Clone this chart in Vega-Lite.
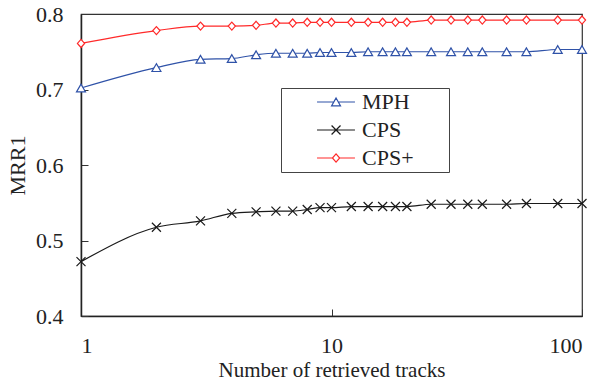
{
  "$schema": "https://vega.github.io/schema/vega-lite/v6.json",
  "width": 501,
  "height": 302,
  "autosize": {"type": "none"},
  "padding": {"left": 81, "top": 14, "right": 18, "bottom": 70},
  "background": "white",
  "config": {
    "font": "Liberation Serif",
    "view": {"stroke": "#333", "strokeWidth": 1.2},
    "axis": {
      "grid": false,
      "domainColor": "#222",
      "domainWidth": 1.5,
      "tickColor": "#333",
      "tickWidth": 1,
      "tickSize": -7,
      "labelFontSize": 22,
      "labelColor": "#222",
      "titleFontSize": 22,
      "titleFontWeight": "normal",
      "titleColor": "#222"
    },
    "legend": {
      "title": null,
      "orient": "none",
      "legendX": 200,
      "legendY": 74,
      "direction": "vertical",
      "padding": 3,
      "strokeColor": "#444",
      "fillColor": "white",
      "symbolSize": 432,
      "symbolStrokeWidth": 1.2,
      "labelFontSize": 22,
      "labelColor": "#222",
      "labelOffset": 56,
      "rowPadding": 6
    }
  },
  "data": {
    "values": [
      {"series": "MPH", "k": 1, "mrr": 0.702},
      {"series": "MPH", "k": 2, "mrr": 0.729},
      {"series": "MPH", "k": 3, "mrr": 0.740},
      {"series": "MPH", "k": 4, "mrr": 0.741},
      {"series": "MPH", "k": 5, "mrr": 0.746},
      {"series": "MPH", "k": 6, "mrr": 0.748},
      {"series": "MPH", "k": 7, "mrr": 0.748},
      {"series": "MPH", "k": 8, "mrr": 0.748},
      {"series": "MPH", "k": 9, "mrr": 0.749},
      {"series": "MPH", "k": 10, "mrr": 0.749},
      {"series": "MPH", "k": 12, "mrr": 0.749},
      {"series": "MPH", "k": 14, "mrr": 0.750},
      {"series": "MPH", "k": 16, "mrr": 0.750},
      {"series": "MPH", "k": 18, "mrr": 0.750},
      {"series": "MPH", "k": 20, "mrr": 0.750},
      {"series": "MPH", "k": 25, "mrr": 0.750},
      {"series": "MPH", "k": 30, "mrr": 0.750},
      {"series": "MPH", "k": 35, "mrr": 0.750},
      {"series": "MPH", "k": 40, "mrr": 0.750},
      {"series": "MPH", "k": 50, "mrr": 0.750},
      {"series": "MPH", "k": 60, "mrr": 0.750},
      {"series": "MPH", "k": 80, "mrr": 0.753},
      {"series": "MPH", "k": 100, "mrr": 0.753},
      {"series": "CPS", "k": 1, "mrr": 0.472},
      {"series": "CPS", "k": 2, "mrr": 0.5175},
      {"series": "CPS", "k": 3, "mrr": 0.526},
      {"series": "CPS", "k": 4, "mrr": 0.536},
      {"series": "CPS", "k": 5, "mrr": 0.538},
      {"series": "CPS", "k": 6, "mrr": 0.539},
      {"series": "CPS", "k": 7, "mrr": 0.539},
      {"series": "CPS", "k": 8, "mrr": 0.541},
      {"series": "CPS", "k": 9, "mrr": 0.5435},
      {"series": "CPS", "k": 10, "mrr": 0.5435},
      {"series": "CPS", "k": 12, "mrr": 0.545},
      {"series": "CPS", "k": 14, "mrr": 0.545},
      {"series": "CPS", "k": 16, "mrr": 0.545},
      {"series": "CPS", "k": 18, "mrr": 0.545},
      {"series": "CPS", "k": 20, "mrr": 0.545},
      {"series": "CPS", "k": 25, "mrr": 0.548},
      {"series": "CPS", "k": 30, "mrr": 0.548},
      {"series": "CPS", "k": 35, "mrr": 0.548},
      {"series": "CPS", "k": 40, "mrr": 0.548},
      {"series": "CPS", "k": 50, "mrr": 0.548},
      {"series": "CPS", "k": 60, "mrr": 0.549},
      {"series": "CPS", "k": 80, "mrr": 0.549},
      {"series": "CPS", "k": 100, "mrr": 0.549},
      {"series": "CPS+", "k": 1, "mrr": 0.761},
      {"series": "CPS+", "k": 2, "mrr": 0.778},
      {"series": "CPS+", "k": 3, "mrr": 0.784},
      {"series": "CPS+", "k": 4, "mrr": 0.784},
      {"series": "CPS+", "k": 5, "mrr": 0.785},
      {"series": "CPS+", "k": 6, "mrr": 0.788},
      {"series": "CPS+", "k": 7, "mrr": 0.788},
      {"series": "CPS+", "k": 8, "mrr": 0.789},
      {"series": "CPS+", "k": 9, "mrr": 0.789},
      {"series": "CPS+", "k": 10, "mrr": 0.789},
      {"series": "CPS+", "k": 12, "mrr": 0.789},
      {"series": "CPS+", "k": 14, "mrr": 0.789},
      {"series": "CPS+", "k": 16, "mrr": 0.789},
      {"series": "CPS+", "k": 18, "mrr": 0.789},
      {"series": "CPS+", "k": 20, "mrr": 0.789},
      {"series": "CPS+", "k": 25, "mrr": 0.792},
      {"series": "CPS+", "k": 30, "mrr": 0.792},
      {"series": "CPS+", "k": 35, "mrr": 0.792},
      {"series": "CPS+", "k": 40, "mrr": 0.792},
      {"series": "CPS+", "k": 50, "mrr": 0.792},
      {"series": "CPS+", "k": 60, "mrr": 0.792},
      {"series": "CPS+", "k": 80, "mrr": 0.792},
      {"series": "CPS+", "k": 100, "mrr": 0.792}
    ]
  },
  "encoding": {
    "x": {
      "field": "k",
      "type": "quantitative",
      "scale": {"type": "log", "domain": [1, 100], "nice": false},
      "axis": {
        "title": "Number of retrieved tracks",
        "titleFontSize": 21,
        "values": [1, 10, 100],
        "format": "d",
        "labelPadding": 26,
        "titlePadding": 3
      }
    },
    "y": {
      "field": "mrr",
      "type": "quantitative",
      "scale": {"domain": [0.4, 0.8], "nice": false, "zero": false},
      "axis": {
        "title": "MRR1",
        "values": [0.4, 0.5, 0.6, 0.7, 0.8],
        "format": ".1f",
        "labelPadding": 25,
        "titlePadding": 6
      }
    }
  },
  "layer": [
    {
      "mark": {"type": "line", "interpolate": "monotone", "strokeWidth": 1.2},
      "encoding": {
        "color": {
          "field": "series",
          "type": "nominal",
          "scale": {"domain": ["MPH", "CPS", "CPS+"], "range": ["#2f52a8", "#1a1a1a", "#ff2a2a"]},
          "legend": null
        }
      }
    },
    {
      "mark": {"type": "point", "filled": false, "fill": "white", "fillOpacity": 1, "opacity": 1, "strokeWidth": 1.2, "size": 81},
      "encoding": {
        "color": {
          "field": "series",
          "type": "nominal",
          "scale": {"domain": ["MPH", "CPS", "CPS+"], "range": ["#2f52a8", "#1a1a1a", "#ff2a2a"]},
          "legend": null
        },
        "shape": {
          "field": "series",
          "type": "nominal",
          "scale": {
            "domain": ["CPS", "CPS+", "MPH"],
            "range": ["M-1,-1L1,1M1,-1L-1,1", "M0,-0.9L0.8,0L0,0.9L-0.8,0Z", "triangle-up"]
          },
          "legend": null
        }
      }
    },
    {
      "transform": [{"filter": "false"}],
      "mark": {"type": "point", "filled": false, "opacity": 1, "strokeWidth": 1.2},
      "encoding": {
        "color": {
          "field": "series",
          "type": "nominal",
          "scale": {"domain": ["MPH", "CPS", "CPS+"], "range": ["#2f52a8", "#1a1a1a", "#ff2a2a"]}
        },
        "shape": {
          "field": "series",
          "type": "nominal",
          "scale": {
            "domain": ["MPH", "CPS", "CPS+"],
            "range": [
              "M2.12,0H3.73M4.17,0H5.77M3.95,-0.39L4.38,0.38H3.52ZM14.24,0L14.24,0",
              "M2.12,0H5.77M3.52,-0.43L4.38,0.43M4.38,-0.43L3.52,0.43M14.24,0L14.24,0",
              "M2.12,0H3.6M4.3,0H5.77M3.95,-0.4L4.3,0L3.95,0.4L3.6,0ZM14.24,0L14.24,0"
            ]
          }
        }
      }
    }
  ],
  "resolve": {"scale": {"shape": "independent", "color": "independent"}}
}
